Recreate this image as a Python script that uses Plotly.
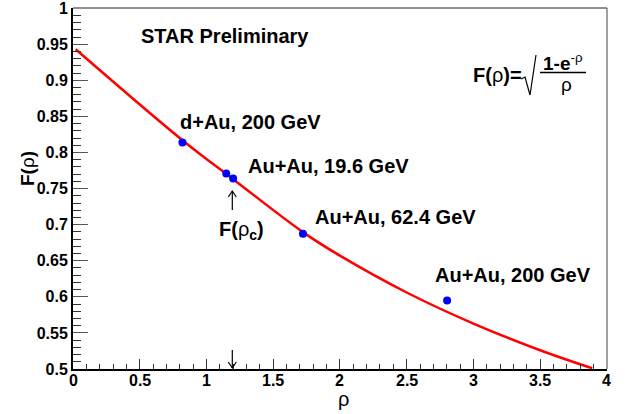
import plotly.graph_objects as go

# ---- data ----
point_labels = ["d+Au, 200 GeV", "Au+Au, 19.6 GeV", "Au+Au, 19.6 GeV", "Au+Au, 62.4 GeV", "Au+Au, 200 GeV"]
rho_points = [0.82, 1.148, 1.20, 1.723, 2.803]
F_points = [0.814, 0.771, 0.764, 0.6875, 0.595]

curve_rho = [0.02, 0.82, 1.2, 1.72, 2.0, 2.5, 3.0, 3.5, 3.89]
curve_F = [0.943, 0.817, 0.763, 0.690, 0.657, 0.606, 0.563, 0.526, 0.501]

x_range = [0, 4.001]
y_range = [0.5, 1.0002]
x_ticks = [0, 0.5, 1, 1.5, 2, 2.5, 3, 3.5, 4]
x_ticklabels = ["0", "0.5", "1", "1.5", "2", "2.5", "3", "3.5", "4"]
y_ticks = [0.5, 0.55, 0.6, 0.65, 0.7, 0.75, 0.8, 0.85, 0.9, 0.95, 1.0]
y_ticklabels = ["0.5", "0.55", "0.6", "0.65", "0.7", "0.75", "0.8", "0.85", "0.9", "0.95", "1"]
x_minor = [i / 10 for i in range(0, 41)]

W, H = 626, 414
ML, MR, MT, MB = 73, 19, 8, 45
FONT = "Liberation Sans, Arial, sans-serif"


def px_to_paper(px, py):
    return (px - ML) / (W - ML - MR), 1 - (py - MT) / (H - MT - MB)


fig = go.Figure()
fig.add_trace(go.Scatter(x=curve_rho, y=curve_F, mode="lines",
                         line=dict(color="#ff0000", width=2.5, shape="spline", smoothing=1),
                         hoverinfo="skip", showlegend=False))
fig.add_trace(go.Scatter(x=rho_points, y=F_points, mode="markers",
                         marker=dict(color="#0000ff", size=8),
                         text=point_labels, showlegend=False))

annotations = []


def add_text(text, px, py, size=20, xanchor="left", yanchor="middle", textangle=0, weight="bold"):
    x, y = px_to_paper(px, py)
    annotations.append(dict(text=text, x=x, y=y, xref="paper", yref="paper",
                            xanchor=xanchor, yanchor=yanchor, showarrow=False,
                            textangle=textangle, borderpad=0,
                            font=dict(family=FONT, size=size, color="black", weight=weight)))


add_text("STAR Preliminary", 140, 36)
add_text(point_labels[0], 179, 122)
add_text(point_labels[1], 246.7, 166)
add_text(point_labels[3], 314.3, 217)
add_text(point_labels[4], 434, 274.5)
add_text("<b>F(</b>ρ<sub><b>c</b></sub><b>)</b>", 218, 230, size=20, weight="normal")

# formula F(rho) = sqrt((1-e^-rho)/rho)
add_text("<b>F(</b>ρ<b>)=</b>", 523, 75, size=20, xanchor="right", weight="normal")
add_text("<b>1-e</b><sup>-ρ</sup>", 563, 62, size=19, xanchor="center", weight="normal")
add_text("ρ", 566, 85, size=19, xanchor="center", weight="normal")

# axis titles
add_text("ρ", 343, 399, size=20, xanchor="center", weight="normal")
add_text("<b>F(</b>ρ<b>)</b>", 27, 169, size=19, xanchor="center", textangle=-90, weight="normal")

# x tick labels (drawn at the axis tick values)
_, lab_y = px_to_paper(0, 380)
for v, t in zip(x_ticks, x_ticklabels):
    annotations.append(dict(text=t, x=v, y=lab_y, xref="x", yref="paper",
                            xanchor="center", yanchor="middle", showarrow=False, borderpad=0,
                            font=dict(family=FONT, size=16, color="black", weight="bold")))

shapes = []


def add_poly(pts, width=1.2, color="black"):
    path = ""
    for i, (px, py) in enumerate(pts):
        x, y = px_to_paper(px, py)
        path += ("M" if i == 0 else "L") + f"{x},{y} "
    shapes.append(dict(type="path", xref="paper", yref="paper", path=path,
                       line=dict(color=color, width=width)))


# top and right frame lines
shapes.append(dict(type="line", xref="paper", yref="paper", x0=0, x1=1, y0=1, y1=1,
                   line=dict(color="#222", width=1)))
shapes.append(dict(type="line", xref="paper", yref="paper", x0=1, x1=1, y0=0, y1=1,
                   line=dict(color="#444", width=1)))
# radical sign
add_poly([(521, 79), (525, 77), (530, 95), (536, 55)])
# fraction bar
add_poly([(540, 72.5), (586, 72.5)], width=1.5)
# arrows
add_poly([(232.3, 210), (232.3, 191)], width=1.2)
add_poly([(228.3, 197), (232.3, 191), (236.3, 197)], width=1.2)
add_poly([(232.3, 350), (232.3, 368)], width=1.2)
add_poly([(228.3, 362), (232.3, 368), (236.3, 362)], width=1.2)

fig.update_layout(
    width=W, height=H,
    margin=dict(l=ML, r=MR, t=MT, b=MB, autoexpand=False),
    paper_bgcolor="white", plot_bgcolor="white",
    font=dict(family=FONT, color="black"),
    annotations=annotations, shapes=shapes,
    xaxis=dict(range=x_range, tickmode="array", tickvals=x_ticks, ticktext=x_ticklabels,
               showticklabels=False, automargin=False,
               showgrid=False, zeroline=False,
               showline=True, linecolor="black", linewidth=2,
               ticks="inside", ticklen=10, tickwidth=1, tickcolor="#333",
               minor=dict(tickmode="array", tickvals=x_minor, ticks="inside", ticklen=5,
                          tickwidth=1, tickcolor="#333", showgrid=False)),
    yaxis=dict(range=y_range, tickmode="array", tickvals=y_ticks, ticktext=y_ticklabels,
               showgrid=False, zeroline=False, ticklabeloverflow="allow", automargin=False,
               showline=True, linecolor="black", linewidth=2,
               ticks="inside", ticklen=15, tickwidth=1, tickcolor="#555",
               tickfont=dict(family=FONT, size=16, color="black", weight="bold"),
               minor=dict(dtick=0.01, tick0=0.5, ticks="inside", ticklen=8,
                          tickwidth=1, tickcolor="#333", showgrid=False)),
)

fig.write_html("out.html")
